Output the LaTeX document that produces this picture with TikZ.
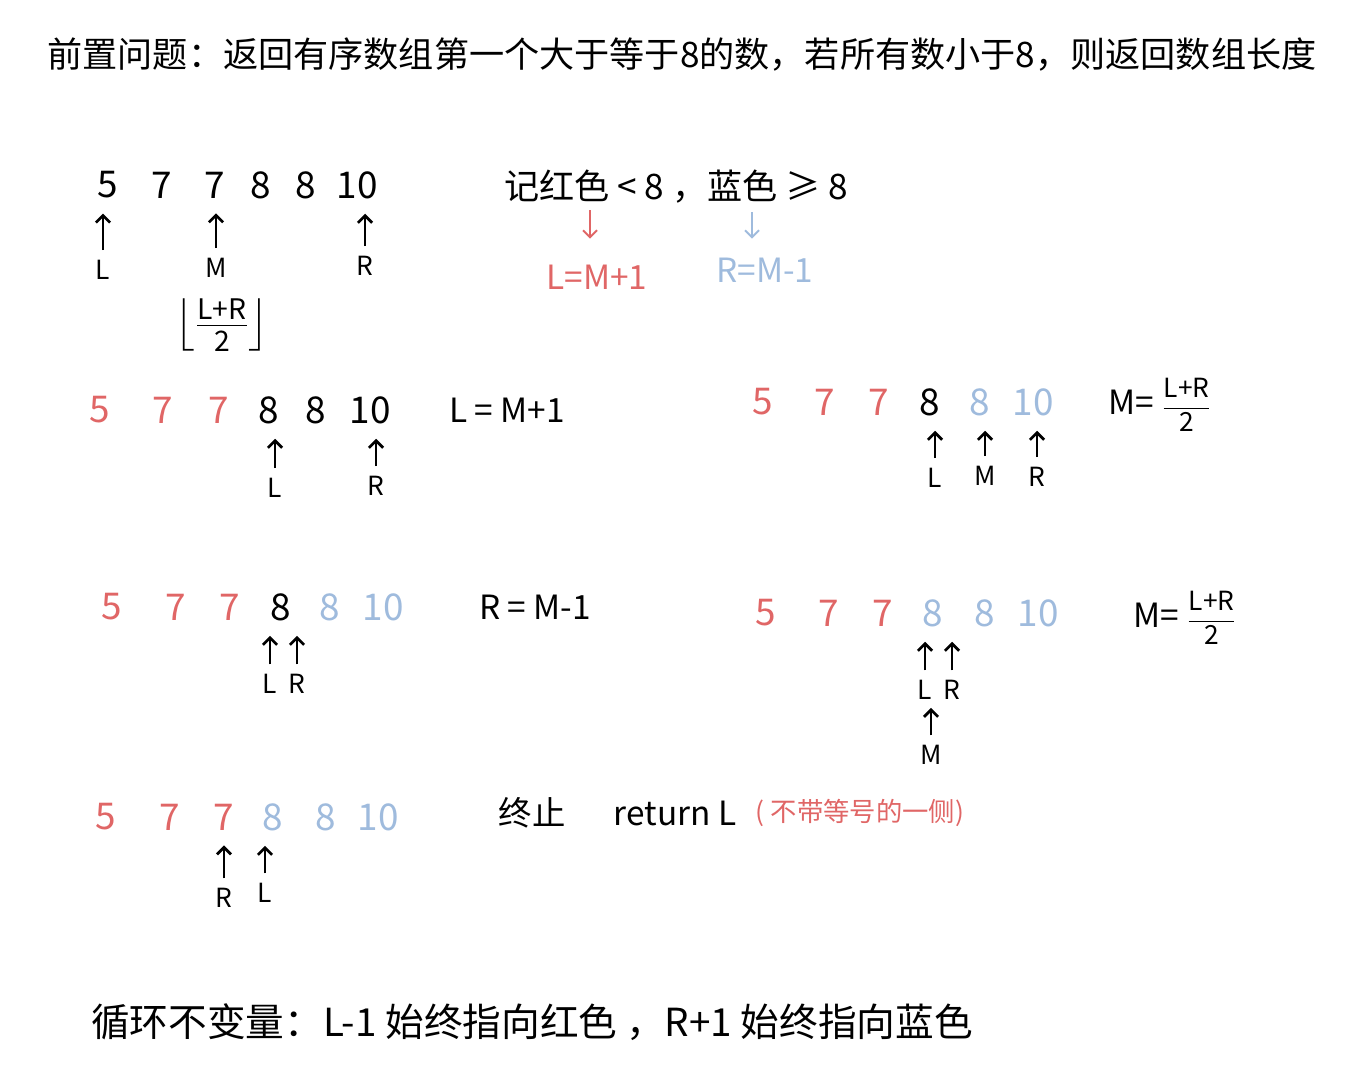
\documentclass[tikz,border=0pt]{standalone}
\usepackage{amsmath}
\usepackage{fontspec}
\setmainfont{Noto Sans CJK SC}
\usetikzlibrary{arrows.meta,positioning}
\definecolor{lored}{HTML}{E06666}
\definecolor{loblue}{HTML}{9FBBDD}

\begin{document}
\begin{tikzpicture}[x=0.02cm,y=-0.02cm,
    num/.style={font=\fontsize{21}{25}\selectfont,inner sep=1pt},
    lbl/.style={font=\fontsize{15}{18}\selectfont,inner sep=1pt},
    note/.style={font=\fontsize{19}{23}\selectfont,inner sep=1pt},
    ptr/.style={line width=1.6pt,-{Straight Barb[length=4pt,width=8pt]},
      shorten >=0.26cm,shorten <=0.16cm},
    hint/.style={line width=1.1pt,-{Straight Barb[length=4pt,width=8pt]}},
    >=Latex]
  \useasboundingbox (0,0) rectangle (1366,1080);

  % title
  \node[font=\fontsize{20}{24}\selectfont] (title) at (682,55)
    {前置问题：返回有序数组第一个大于等于8的数，若所有数小于8，则返回数组长度};

  % first array
  \foreach \k/\x/\v in {1/108/5,2/162/7,3/215/7,4/261/8,5/306/8,6/357/10} {
    \node[num] (a\k) at (\x,185) {\v};
  }
  \node[lbl] (aL) at (103,270) {L};
  \node[lbl] (aM) at (216,268) {M};
  \node[lbl] (aR) at (365,266) {R};
  \foreach \p/\n in {aL/a1,aM/a3,aR/a6} {
    \draw[ptr] (\p.north) -- (\p.north |- \n.south);
  }
  \node[note,font=\fontsize{23}{27}\selectfont] (floor) at (222,325)
    {$\left\lfloor\frac{\text{L+R}}{\text{2}}\right\rfloor$};

  % colour rule
  \node[note,font=\fontsize{20}{24}\selectfont] (rule) at (676,187) {记红色 < 8 ，蓝色 ≥ 8};
  \node[note,text=lored] (redeq) at (597,277) {L=M+1};
  \node[note,text=loblue] (blueeq) at (765,270) {R=M-1};
  \coordinate (redtop) at (590,210);
  \coordinate (bluetop) at (752,212);
  \draw[hint,lored,shorten >=0.48cm] (redtop) -- (redtop |- redeq.north);
  \draw[hint,loblue,shorten >=0.34cm] (bluetop) -- (bluetop |- blueeq.north);

  % step 1
  \foreach \k/\x/\v/\c in {1/100/5/lored,2/163/7/lored,3/219/7/lored,
      4/269/8/black,5/316/8/black,6/370/10/black} {
    \node[num,text=\c] (b\k) at (\x,410) {\v};
  }
  \node[lbl] (bL) at (275,488) {L};
  \node[lbl] (bR) at (376,486) {R};
  \foreach \p/\n in {bL/b4,bR/b6} {
    \draw[ptr] (\p.north) -- (\p.north |- \n.south);
  }
  \node[note] (stepL) at (507,410) {L = M+1};

  % step 2
  \foreach \k/\x/\v/\c in {1/763/5/lored,2/825/7/lored,3/879/7/lored,
      4/930/8/black,5/980/8/loblue,6/1033/10/loblue} {
    \node[num,text=\c] (c\k) at (\x,402) {\v};
  }
  \node[lbl] (cL) at (935,478) {L};
  \node[lbl] (cM) at (985,476) {M};
  \node[lbl] (cR) at (1037,477) {R};
  \foreach \p/\n in {cL/c4,cM/c5,cR/c6} {
    \draw[ptr] (\p.north) -- (\p.north |- \n.south);
  }
  \node[note] (midc) at (1160,405)
    {M= {\fontsize{15}{18}\selectfont$\dfrac{\text{L+R}}{\text{2}}$}};

  % step 3
  \foreach \k/\x/\v/\c in {1/112/5/lored,2/176/7/lored,3/230/7/lored,
      4/281/8/black,5/330/8/loblue,6/383/10/loblue} {
    \node[num,text=\c] (d\k) at (\x,607) {\v};
  }
  \node[lbl] (dL) at (270,684) {L};
  \node[lbl] (dR) at (297,684) {R};
  \foreach \p/\n in {dL/d4,dR/d4} {
    \draw[ptr] (\p.north) -- (\p.north |- \n.south);
  }
  \node[note] (stepR) at (535,607) {R = M-1};

  % step 4
  \foreach \k/\x/\v/\c in {1/766/5/lored,2/829/7/lored,3/883/7/lored,
      4/933/8/loblue,5/985/8/loblue,6/1038/10/loblue} {
    \node[num,text=\c] (e\k) at (\x,613) {\v};
  }
  \node[lbl] (eL) at (925,690) {L};
  \node[lbl] (eR) at (952,690) {R};
  \node[lbl] (eM) at (931,755) {M};
  \foreach \p/\n in {eL/e4,eR/e4} {
    \draw[ptr] (\p.north) -- (\p.north |- \n.south);
  }
  \draw[ptr,shorten >=0.12cm] (eM.north) -- (eM.north |- eL.south);
  \node[note] (mide) at (1185,618)
    {M= {\fontsize{15}{18}\selectfont$\dfrac{\text{L+R}}{\text{2}}$}};

  % end
  \foreach \k/\x/\v/\c in {1/106/5/lored,2/170/7/lored,3/224/7/lored,
      4/273/8/loblue,5/326/8/loblue,6/378/10/loblue} {
    \node[num,text=\c] (f\k) at (\x,817) {\v};
  }
  \node[lbl] (fR) at (224,898) {R};
  \node[lbl] (fL) at (265,893) {L};
  \foreach \p/\n in {fR/f3,fL/f4} {
    \draw[ptr] (\p.north) -- (\p.north |- \n.south);
  }
  \node[note] (stop) at (532,813) {终止};
  \node[note] (ret) at (675,813) {return L};
  \node[note,text=lored,font=\fontsize{15}{18}\selectfont] (side) at (860,813) {( 不带等号的一侧)};

  % invariant
  \node[font=\fontsize{22}{26}\selectfont] (inv) at (532,1022)
    {循环不变量：L-1 始终指向红色 ，R+1 始终指向蓝色};
\end{tikzpicture}
\end{document}
